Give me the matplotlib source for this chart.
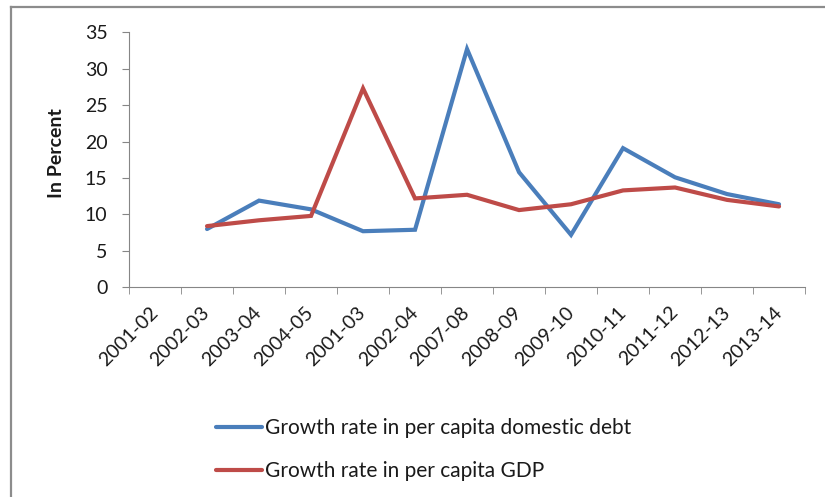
import numpy as np
from matplotlib import pyplot as plt
from matplotlib.lines import Line2D

years = ["2001-02", "2002-03", "2003-04", "2004-05", "2001-03", "2002-04", "2007-08",
         "2008-09", "2009-10", "2010-11", "2011-12", "2012-13", "2013-14"]
debt = [np.nan, 8.0, 11.9, 10.7, 7.7, 7.9, 32.7, 15.8, 7.2, 19.1, 15.1, 12.8, 11.4]
gdp = [np.nan, 8.4, 9.2, 9.8, 27.3, 12.2, 12.7, 10.6, 11.4, 13.3, 13.7, 12.0, 11.1]

plt.rcParams['font.family'] = ['Lato', 'DejaVu Sans']
grey = "#868686"

fig = plt.figure(figsize=(8.25, 4.97), dpi=100)
ax = fig.add_axes([0.1564, 0.4219, 0.8194, 0.5131])

x = np.arange(len(years))
l1, = ax.plot(x, debt, color="#4a7ebb", lw=3, solid_capstyle="round", solid_joinstyle="miter")
l2, = ax.plot(x, gdp, color="#be4b48", lw=3, solid_capstyle="round", solid_joinstyle="miter")

ax.set_xlim(-0.5, len(years) - 0.5)
ax.set_ylim(0, 35)
ax.set_yticks(range(0, 36, 5))
ax.set_xticks(x)
ax.set_xticklabels(years, rotation=45, ha="right", va="center", rotation_mode="anchor",
                   fontsize=14, color="#1a1a1a")
ax.set_xticks(np.arange(-0.5, len(years)), minor=True)
ax.tick_params(axis="x", which="major", length=0, pad=16)
ax.tick_params(axis="x", which="minor", length=5, color=grey, direction="out")
ax.tick_params(axis="y", length=5, color=grey, labelsize=14, labelcolor="#1a1a1a", pad=10.5)

for s in ["top", "right"]:
    ax.spines[s].set_visible(False)
for s in ["left", "bottom"]:
    ax.spines[s].set_color(grey)

ax.set_ylabel("In Percent", fontsize=14, fontweight="bold", color="#1a1a1a")
ax.yaxis.set_label_coords(-0.0947, 0.525)

fig.legend([l1, l2], ["Growth rate in per capita domestic debt", "Growth rate in per capita GDP"],
           loc="upper left", bbox_to_anchor=(0.2396, 0.197), bbox_transform=fig.transFigure,
           frameon=False, fontsize=15, handlelength=2.2, handletextpad=0.15, labelspacing=1.13,
           labelcolor="#1a1a1a")

# outer chart frame (left and top edges)
fig.add_artist(Line2D([0.0135, 0.0135], [0, 0.985], transform=fig.transFigure, color="#8c8c8c", lw=1.6))
fig.add_artist(Line2D([0.0135, 1], [0.985, 0.985], transform=fig.transFigure, color="#8c8c8c", lw=1.6))

fig.savefig("out.png", dpi=100)
